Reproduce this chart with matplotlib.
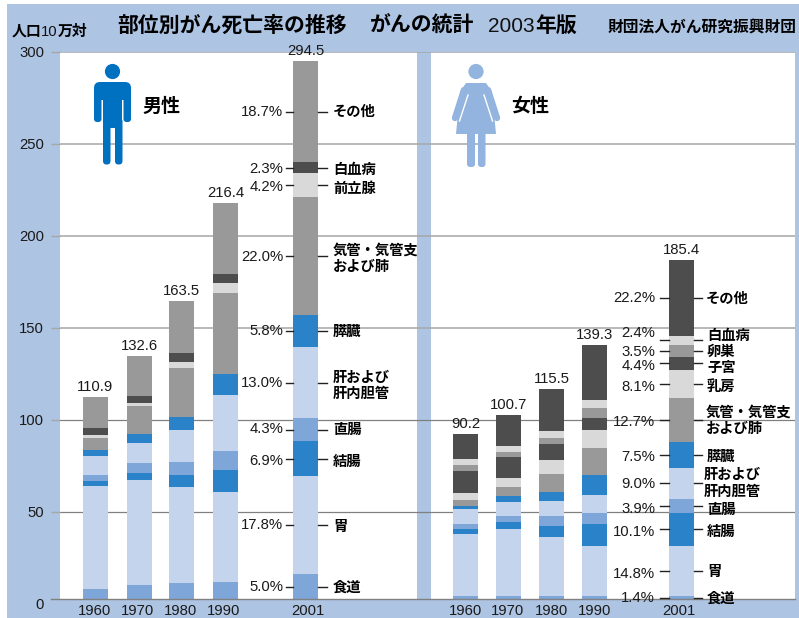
import numpy as np
import matplotlib
matplotlib.use('Agg')
import matplotlib.pyplot as plt
from matplotlib.patches import Rectangle, Circle, FancyBboxPatch, Polygon

plt.rcParams['font.family'] = ['Liberation Sans', 'Noto Sans CJK JP']

W, H = 799, 618

# cumulative tops of the stacked segments, bottom to top
male_years = ['1960', '1970', '1980', '1990', '2001']
male_tops = [
    [8.0, 64.0, 66.7, 70.0, 80.3, 83.5, 90.1, 91.7, 95.5, 112.4],
    [10.2, 67.3, 71.0, 76.5, 87.3, 92.3, 107.4, 109.1, 112.9, 134.7],
    [11.2, 63.4, 70.0, 77.0, 94.5, 101.3, 128.1, 131.4, 136.2, 164.6],
    [11.8, 60.7, 72.7, 83.0, 113.4, 124.8, 169.0, 174.4, 179.3, 217.6],
    [16.2, 69.4, 88.4, 100.9, 139.5, 157.0, 221.0, 234.0, 240.0, 294.9],
]
male_totals = ['110.9', '132.6', '163.5', '216.4', '294.5']
male_pct = ['5.0%', '17.8%', '6.9%', '4.3%', '13.0%', '5.8%', '22.0%', '4.2%', '2.3%', '18.7%']
male_names = ['食道', '胃', '結腸', '直腸', '肝および\n肝内胆管', '膵臓', '気管・気管支\nおよび肺', '前立腺', '白血病', 'その他']

female_years = ['1960', '1970', '1980', '1990', '2001']
female_tops = [
    [4.2, 37.9, 40.6, 43.3, 51.5, 53.1, 56.4, 60.2, 72.2, 75.4, 78.7, 92.3],
    [4.2, 40.6, 44.4, 47.7, 55.3, 58.6, 63.4, 68.3, 79.7, 82.4, 85.7, 102.5],
    [4.2, 36.3, 42.2, 47.7, 55.8, 60.7, 70.5, 78.1, 86.8, 90.0, 93.8, 116.7],
    [4.2, 31.4, 43.3, 49.3, 59.1, 70.0, 84.6, 94.4, 100.9, 106.4, 110.7, 140.6],
    [4.2, 31.4, 49.3, 56.9, 73.8, 87.9, 111.8, 127.0, 134.1, 140.6, 145.5, 186.8],
]
female_totals = ['90.2', '100.7', '115.5', '139.3', '185.4']
female_pct = ['1.4%', '14.8%', '10.1%', '3.9%', '9.0%', '7.5%', '12.7%', '8.1%', '4.4%', '3.5%', '2.4%', '22.2%']
female_names = ['食道', '胃', '結腸', '直腸', '肝および\n肝内胆管', '膵臓', '気管・気管支\nおよび肺', '乳房', '子宮', '卵巣', '白血病', 'その他']

band = '#aec4e3'
mid = '#7ea6d8'
light = '#c5d4ed'
strong = '#2a82c8'
gray = '#999999'
pale = '#d9d9d9'
dark = '#4d4d4d'
male_colors = [mid, light, strong, mid, light, strong, gray, pale, dark, gray]
female_colors = [mid, light, strong, mid, light, strong, gray, pale, dark, gray, pale, dark]

fig = plt.figure(figsize=(W / 100, H / 100), dpi=100, facecolor='white')

# pixel layer for the background bands and icons
px = fig.add_axes([0, 0, 1, 1], zorder=0)
px.set_xlim(0, W)
px.set_ylim(H, 0)
px.axis('off')
for x0, y0, x1, y1 in [(7, 4, 799, 52), (7, 52, 60, 618),
                       (417, 52, 431, 599), (795, 52, 799, 599)]:
    px.add_patch(Rectangle((x0, y0), x1 - x0, y1 - y0, fc=band, ec='none'))

# the scale's zero lies a little under the band at the bottom
ax = fig.add_axes([60 / W, 1 - 603.7 / H, 735 / W, 552 / H], zorder=1)
ax.patch.set_visible(False)
ax.set_xlim(60, 795)
ax.set_ylim(0, 300)
ax.set_xticks([])
ax.set_yticks(range(0, 301, 50))
ax.tick_params(axis='y', length=6.5, width=1, color='#a6a6a6', pad=5, labelsize=10.7, labelcolor='#1a1a1a')
ax.grid(True, axis='y', color='#a6a6a6', lw=1.1)
ax.set_axisbelow(True)
for s in ax.spines.values():
    s.set_visible(False)
yticks = ax.yaxis.get_major_ticks()
yticks[0].tick1line.set_visible(False)
yticks[0].gridline.set_visible(False)
for t in yticks[1:3]:
    t.gridline.set_color('#808080')
    t.gridline.set_linewidth(0.9)
    t.tick1line.set_color('#808080')

ax.add_patch(Rectangle((60, 599), 739, 19, fc=band, ec='none', transform=px.transData, clip_on=False, zorder=3))
ax.plot([51, 795], [599.3, 599.3], color='#808080', lw=1, transform=px.transData, clip_on=False, zorder=3.2)


def px_text(x, y, s, **kw):
    kw.setdefault('va', 'center')
    return ax.text(x, y, s, transform=px.transData, clip_on=False, zorder=5, **kw)


def draw_side(centers, year_x, tops, colors, totals, years):
    for cx, yx, t, total, year in zip(centers, year_x, tops, totals, years):
        t = np.array(t)
        bottoms = np.r_[0, t[:-1]]
        ax.bar(cx, t - bottoms, bottom=bottoms, width=25, color=colors, linewidth=0, zorder=2)
        ax.annotate(total, (cx, t[-1]), xytext=(0, 7.3), textcoords='offset points',
                    ha='center', va='center', fontsize=10.7, color='#1a1a1a', annotation_clip=False)
        px_text(yx, 615, year, fontsize=10.7, ha='center', va='baseline', color='#1a1a1a')


def draw_labels(tops, pct, names, pct_y, name_y, pct_x, left, right, name_x):
    t = np.array(tops)
    # 2.4 is where the bottom band starts on the scale
    mids = (np.r_[2.4, t[:-1]] + t) / 2
    for i in range(len(pct)):
        ax.plot(left, [mids[i], mids[i]], color='#222222', lw=1, zorder=3.5, clip_on=False)
        ax.plot(right, [mids[i], mids[i]], color='#222222', lw=1, zorder=3.5, clip_on=False)
        px_text(pct_x, pct_y[i], pct[i], fontsize=10.7, ha='right', color='#1a1a1a')
        px_text(name_x[i], name_y[i], names[i], fontsize=10.3, fontweight='bold', ha='left',
                color='#000000', linespacing=1.22)


draw_side([95.5, 139.5, 181.5, 225.5, 305.5], [94.5, 137.5, 180.5, 224, 308], male_tops, male_colors, male_totals, male_years)
draw_side([465.5, 508.5, 551.5, 594.5, 681.5], [465, 508, 551.5, 595, 679], female_tops, female_colors, female_totals, female_years)

draw_labels(male_tops[-1], male_pct, male_names,
            [587, 525, 461, 429, 383, 331, 257, 187, 169, 112],
            [588, 527, 462, 430, 386, 332, 258.5, 189, 170, 112],
            283, (286, 293), (318, 327), [333] * 10)
draw_labels(female_tops[-1], female_pct, female_names,
            [598, 574, 532, 509, 484, 457, 422, 387, 366, 352, 333, 298],
            [599, 572, 532, 510, 483.5, 457, 421, 387, 368, 352, 336, 299],
            655, (660, 669), (694, 702), [707, 707, 707, 707, 704, 707, 706, 707, 707, 707, 707, 706])

# title band
px_text(117, 26, '部位別がん死亡率の推移', fontsize=15, fontweight='bold', color='#000000')
px_text(370, 26, 'がんの統計', fontsize=15, fontweight='bold', color='#000000')
px_text(488, 26, '2003', fontsize=15, color='#111111')
px_text(535, 26, '年版', fontsize=15, fontweight='bold', color='#000000')
px_text(608, 28, '財団法人がん研究振興財団', fontsize=11.3, fontweight='bold', color='#000000')
px_text(12, 32, '人口', fontsize=10.7, fontweight='bold', color='#000000')
px_text(41, 32, '10', fontsize=10.7, color='#111111')
px_text(58, 32, '万対', fontsize=10.7, fontweight='bold', color='#000000')
px_text(142, 107, '男性', fontsize=13.7, fontweight='bold', color='#000000')
px_text(511, 107, '女性', fontsize=13.7, fontweight='bold', color='#000000')


def rbox(x0, y0, x1, y1, r, color):
    ax.add_patch(FancyBboxPatch((x0 + r, y0 + r), x1 - x0 - 2 * r, y1 - y0 - 2 * r,
                                boxstyle='round,pad=%f' % r, fc=color, ec='none',
                                transform=px.transData, clip_on=False, zorder=4))


# male icon
c = '#0070c0'
ax.add_patch(Circle((112.5, 71.5), 7.6, fc=c, ec='none', transform=px.transData, clip_on=False, zorder=4))
rbox(94, 82, 131, 100, 6, c)
rbox(94, 90, 101.5, 122, 3, c)
rbox(123.5, 90, 131, 122, 3, c)
rbox(103, 88, 122, 128, 1, c)
rbox(103, 118, 110.5, 164.5, 3.5, c)
rbox(115, 118, 122.5, 164.5, 3.5, c)

# female icon
c = '#92b4de'
ax.add_patch(Circle((476, 71.5), 7.6, fc=c, ec='none', transform=px.transData, clip_on=False, zorder=4))
ax.add_patch(Polygon([(466, 83), (486, 83), (492, 92), (496, 134), (456, 134), (460, 92)], fc=c, ec='none',
                     transform=px.transData, clip_on=False, zorder=4))
for xs in [(464, 455), (488, 497)]:
    ax.plot(xs, (90, 118), color=c, lw=4.6, solid_capstyle='round', transform=px.transData, clip_on=False, zorder=4)
for xs in [(468, 459.5), (484, 492.5)]:
    ax.plot(xs, (95, 121), color='white', lw=1, transform=px.transData, clip_on=False, zorder=4)
rbox(467, 130, 475, 167, 3, c)
rbox(478, 130, 485.5, 167, 3, c)

fig.savefig('out.png', dpi=100)
